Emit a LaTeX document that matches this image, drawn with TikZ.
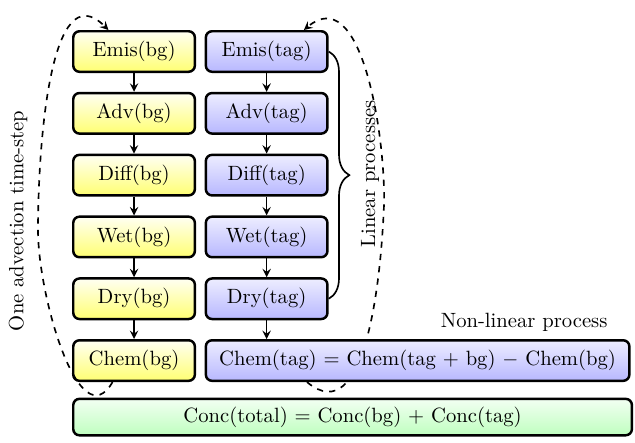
\documentclass[tikz,border=0pt]{standalone}
\usetikzlibrary{positioning,decorations.pathreplacing,backgrounds}
\tikzset{
  bgbox/.style={draw, very thick, rounded corners=3pt, minimum width=2.07cm, minimum height=0.69cm, top color=yellow!5, bottom color=yellow!55},
  tagbox/.style={bgbox, top color=blue!7, bottom color=blue!28},
  totbox/.style={bgbox, top color=green!5, bottom color=green!25},
  flowarrow/.style={->, >=stealth, thick},
  steploop/.style={->, >=stealth, thick, dashed},
}
\begin{document}
\begin{tikzpicture}[node distance=0.32cm and 0.145cm]
\useasboundingbox (0,0) rectangle (10.81,-7.54);
% background column
\node[bgbox] (emisbg) at (2.282,-0.877) {Emis(bg)};
\node[bgbox, below=of emisbg] (advbg) {Adv(bg)};
\node[bgbox, below=of advbg] (diffbg) {Diff(bg)};
\node[bgbox, below=of diffbg] (wetbg) {Wet(bg)};
\node[bgbox, below=of wetbg] (drybg) {Dry(bg)};
\node[bgbox, below=of drybg] (chembg) {Chem(bg)};
% tagged column
\node[tagbox, right=of emisbg] (emistag) {Emis(tag)};
\node[tagbox, right=of advbg] (advtag) {Adv(tag)};
\node[tagbox, right=of diffbg] (difftag) {Diff(tag)};
\node[tagbox, right=of wetbg] (wettag) {Wet(tag)};
\node[tagbox, right=of drybg] (drytag) {Dry(tag)};
\node[tagbox, right=of chembg, minimum width=7.21cm] (chemtag) {Chem(tag) $=$ Chem(tag $+$ bg) $-$ Chem(bg)};
% total
\node[totbox, below=0.265cm of chembg.south west, anchor=north west, minimum width=9.51cm, minimum height=0.62cm] (conc) {Conc(total) $=$ Conc(bg) $+$ Conc(tag)};

\foreach \a/\b in {emisbg/advbg, advbg/diffbg, diffbg/wetbg, wetbg/drybg, drybg/chembg,
                   emistag/advtag, advtag/difftag, difftag/wettag, wettag/drytag}
  \draw[flowarrow] (\a) -- (\b);
\draw[flowarrow] (drytag) -- (drytag |- chemtag.north);

% linear part
\draw[thick, decorate, decoration={brace, amplitude=10pt}] (emistag.east) -- (drytag.east);
\node[rotate=90] (linlabel) at (6.30,-2.96) {Linear processes};
\node[above left=0pt and 0.27cm of chemtag.north east] (nonlin) {Non-linear process};

% time-step loops
\coordinate (leftmid) at (0.647,-3.917);
\coordinate (rightmid) at (6.54,-3.406);
\node[rotate=90] (advlabel) at (0.307,-3.76) {One advection time-step};
\draw[steploop] (chembg.225) to[out=240, in=270] (leftmid) to[out=90, in=135] (emisbg.140);
\begin{scope}[on background layer]
\draw[steploop] (chemtag.191) to[out=-40, in=268] (rightmid) to[out=90, in=40] (emistag.30);
\end{scope}
\end{tikzpicture}
\end{document}
